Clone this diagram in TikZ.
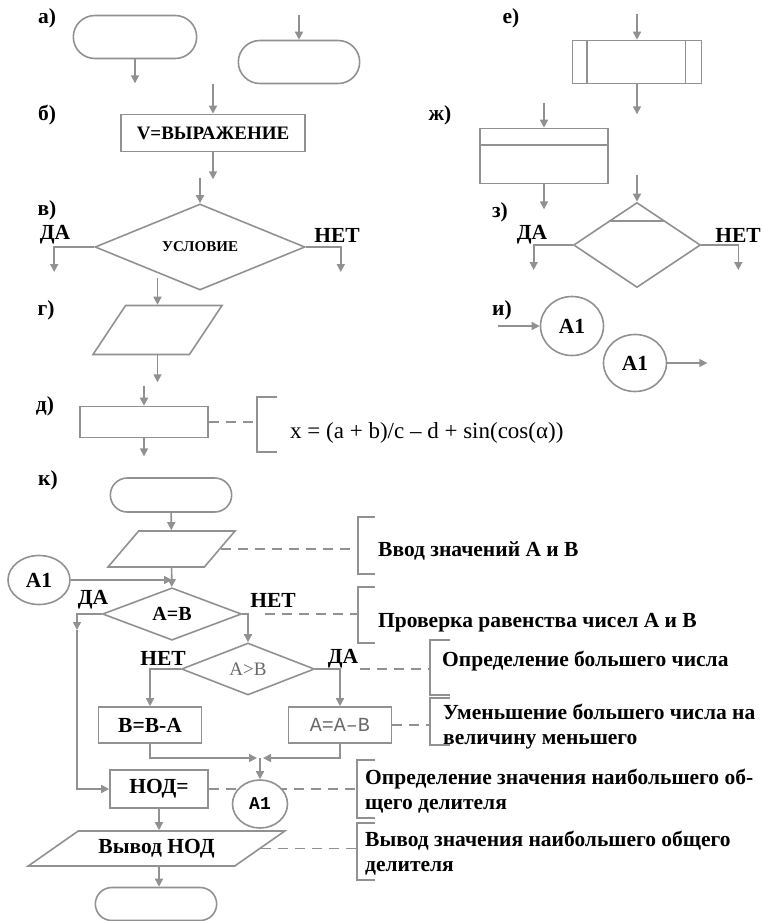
\documentclass[tikz,border=0pt]{standalone}
\usepackage{fontspec}
\setmainfont{Liberation Serif}
\newfontfamily\monofont{Liberation Mono}
\usepackage{xcolor}
\usepackage{tikz}
\usetikzlibrary{arrows.meta,shapes.geometric,shapes.misc,calc}
\definecolor{ln}{RGB}{145,145,145}
\definecolor{soft}{RGB}{105,105,105}

\begin{document}
\begin{tikzpicture}[
  x=1pt, y=-1pt,
  font=\fontsize{21.5}{25}\selectfont\bfseries,
  term/.style={draw=ln, line width=1.6pt, rounded rectangle, minimum width=128pt, minimum height=43pt},
  proc/.style={draw=ln, line width=1.6pt, rectangle, minimum width=128pt, minimum height=37pt},
  io/.style={draw=ln, line width=1.6pt, trapezium, trapezium stretches=true},
  dec/.style={draw=ln, line width=1.6pt, diamond, inner sep=0pt},
  conn/.style={draw=ln, line width=1.6pt, ellipse, inner sep=0pt},
  arr/.style={draw=ln, line width=1.6pt, -{Triangle[length=8pt,width=8pt]}},
  note/.style={draw=ln, line width=1.6pt, dash pattern=on 10pt off 7pt},
  brk/.style={draw=ln, line width=1.6pt},
  lbl/.style={inner sep=0pt},
  cmt/.style={anchor=west, align=left, inner sep=0pt},
]
\useasboundingbox (0,0) rectangle (763,921);

% а) terminators
\node[lbl] (la) at (47,18) {а)};
\node[term, minimum width=130pt] (t1) at (135,37) {};
\draw[arr] (t1.south) -- ++(0,24);
\node[term] (t2) at (299,62) {};
\draw[arr] (t2.north) ++(0,-25) -- (t2.north);

% б) process
\node[lbl] (lb) at (47,115) {б)};
\node[proc, minimum width=184pt, font=\fontsize{19}{22}\selectfont\bfseries] (vb) at (213,133) {V=ВЫРАЖЕНИЕ};
\draw[arr] (vb.north) ++(0,-30) -- (vb.north);
\draw[arr] (vb.south) -- ++(0,27);

% в) decision
\node[lbl] (lv) at (47,210) {в)};
\node[dec, minimum width=210pt, minimum height=70pt, font=\fontsize{15}{17}\selectfont\bfseries] (cond) at (200,247) {УСЛОВИЕ};
\draw[arr] (cond.north) ++(0,-25) -- (cond.north);
\draw[arr] (cond.west) -| ++(-40,25);
\draw[arr] (cond.east) -| ++(35,25);
\node[lbl] (yv) at (55,235) {ДА};
\node[lbl] (nv) at (337,235) {НЕТ};

% г) data
\node[lbl] (lg) at (46,310) {г)};
\node[io, trapezium left angle=63, trapezium right angle=117, minimum width=129pt, minimum height=49pt] (in1) at (157.5,330) {};
\draw[arr] (in1.north) ++(0,-27) -- (in1.north);
\draw[arr] (in1.south) -- ++(0,27);

% д) process with comment
\node[lbl] (ld) at (45,406) {д)};
\node[proc, minimum height=31pt] (pr) at (144,422) {};
\draw[arr] (pr.north) ++(0,-20) -- (pr.north);
\draw[arr] (pr.south) -- ++(0,18);
\coordinate (bf) at (257,422);
\draw[note] (pr.east) -- (bf);
\draw[brk] (277,397) -| (257,452) -- (277,452);
\node[cmt, font=\fontsize{23}{26}\selectfont] (fm) at (290,433) {x = (a + b)/c – d + sin(cos(α))};

% е) predefined process
\node[lbl] (le) at (511,18) {е)};
\node[proc, minimum width=129pt, minimum height=43pt] (sub) at (637,62) {};
\draw[brk] ([xshift=15pt]sub.north west) -- ([xshift=15pt]sub.south west);
\draw[brk] ([xshift=-17pt]sub.north east) -- ([xshift=-17pt]sub.south east);
\draw[arr] (sub.north) ++(0,-26) -- (sub.north);
\draw[arr] (sub.south) -- ++(0,30);

% ж) preparation
\node[lbl] (lzh) at (440,115) {ж)};
\node[proc, minimum height=55pt] (prep) at (544,156) {};
\draw[brk] ([yshift=-17pt]prep.north west) -- ([yshift=-17pt]prep.north east);
\draw[arr] (prep.north) ++(0,-25) -- (prep.north);
\draw[arr] (prep.south) -- ++(0,25);

% з) loop decision
\node[lbl] (lz) at (500,212) {з)};
\node[dec, minimum width=127pt, minimum height=85pt] (lim) at (637,245) {};
\draw[brk] ($(lim.north)!0.44!(lim.west)$) -- ($(lim.north)!0.44!(lim.east)$);
\draw[arr] (lim.north) ++(0,-27) -- (lim.north);
\draw[arr] (lim.west) -| ++(-39,25);
\draw[arr] (lim.east) -| ++(37,25);
\node[lbl] (yz) at (532,235) {ДА};
\node[lbl] (nz) at (738,235) {НЕТ};

% и) connectors
\node[lbl] (li) at (502,310) {и)};
\node[conn, minimum width=63pt, minimum height=59pt] (c1) at (572,326) {А1};
\draw[arr] (c1.west) ++(-42,0) -- (c1.west);
\node[conn, minimum width=63pt, minimum height=57pt] (c2) at (635,363) {А1};
\draw[arr] (c2.east) -- ++(40,0);

% к) gcd algorithm
\node[lbl] (lk) at (48,480) {к)};
\node[term, minimum height=34pt] (beg) at (171,495) {};
\node[io, trapezium left angle=65, trapezium right angle=115, minimum width=127pt, minimum height=36pt] (inp) at (171.5,549) {};
\draw[arr] (beg) -- (inp);
\node[conn, minimum width=62pt, minimum height=49pt] (a1l) at (39,580) {А1};
\node[dec, minimum width=139pt, minimum height=52pt, font=\fontsize{20}{24}\selectfont\bfseries] (eq) at (172,614) {А=В};
\draw[arr] (inp) -- (eq);
\draw[arr] (a1l) -- (a1l -| eq.north);
\node[lbl] (yeq) at (93,600) {ДА};
\node[lbl] (neq) at (273,600) {НЕТ};

\node[dec, minimum width=133pt, minimum height=52pt, font=\fontsize{19}{22}\selectfont, text=soft] (gt) at (248,669) {А>В};
\draw[arr] (eq.east) -| (gt.north);
\node[lbl] (ngt) at (163,658) {НЕТ};
\node[lbl] (ygt) at (343,659) {ДА};

\node[proc, minimum width=103pt, minimum height=36pt] (bb) at (150,725) {В=В-А};
\node[proc, minimum width=103pt, minimum height=36pt, font=\monofont\fontsize{20}{24}\selectfont, text=soft] (aa) at (340,725) {А=А–В};
\draw[arr] (gt.west) -| (bb.north);
\draw[arr] (gt.east) -| (aa.north);

\coordinate (jn) at (260,758);
\draw[arr] (bb.south) |- ([xshift=-3pt]jn);
\draw[arr] (aa.south) |- ([xshift=3pt]jn);

\coordinate (lp) at (77,630);
\node[proc, minimum width=98pt, minimum height=38pt] (nod) at (159,789) {НОД=};
\draw[arr] (eq.west) -| (lp);
\draw[arr] (lp) |- (nod.west);

% comment brackets
\coordinate (b1) at (358,548);
\coordinate (b2) at (358,613);
\coordinate (b3) at (430,669);
\coordinate (b4) at (430,723);
\coordinate (b5) at (357,790);
\coordinate (b6) at (357,852);
\draw[note] (nod.east) -- (nod.east -| b5);
\node[conn, fill=white, minimum width=55pt, minimum height=48pt, font=\monofont\bfseries\fontsize{18}{20}\selectfont] (a1r) at (260,804) {А1};
\draw[arr] (jn) -- (a1r.north);

\node[io, trapezium left angle=33, trapezium right angle=147, minimum width=257pt, minimum height=35pt] (out) at (156.5,848.5) {Вывод НОД};
\draw[arr] (nod.south) -- (nod.south |- out.north);
\node[term, minimum height=33pt] (fin) at (156,904) {};
\draw[arr] (nod.south |- out.south) -- (nod.south |- fin.north);

\draw[note] (inp.east) -- (inp.east -| b1);
\draw[note] ([xshift=23pt]eq.east) -- (eq.east -| b2);
\draw[note] ([xshift=45pt]gt.east) -- (gt.east -| b3);
\draw[note] (aa.east) -- (aa.east -| b4);
\draw[note] (out.east) -- (out.east -| b6);

\draw[brk] (375,517) -| (358,574) -- (375,574);
\draw[brk] (375,587) -| (358,643) -- (375,643);
\draw[brk] (450,640) -| (430,695) -- (450,695);
\draw[brk] (450,698) -| (430,745) -- (450,745);
\draw[brk] (375,760) -| (357,818) -- (375,818);
\draw[brk] (375,823) -| (357,880) -- (375,880);

\node[cmt] (n1) at (378,551) {Ввод значений А и В};
\node[cmt] (n2) at (378,623) {Проверка равенства чисел А и В};
\node[cmt] (n3) at (442,661) {Определение большего числа};
\node[cmt] (n4) at (443,727) {Уменьшение большего числа на\\величину меньшего};
\node[cmt] (n5) at (365,791) {Определение значения наибольшего об-\\щего делителя};
\node[cmt] (n6) at (365,853) {Вывод значения наибольшего общего\\делителя};
\end{tikzpicture}
\end{document}
